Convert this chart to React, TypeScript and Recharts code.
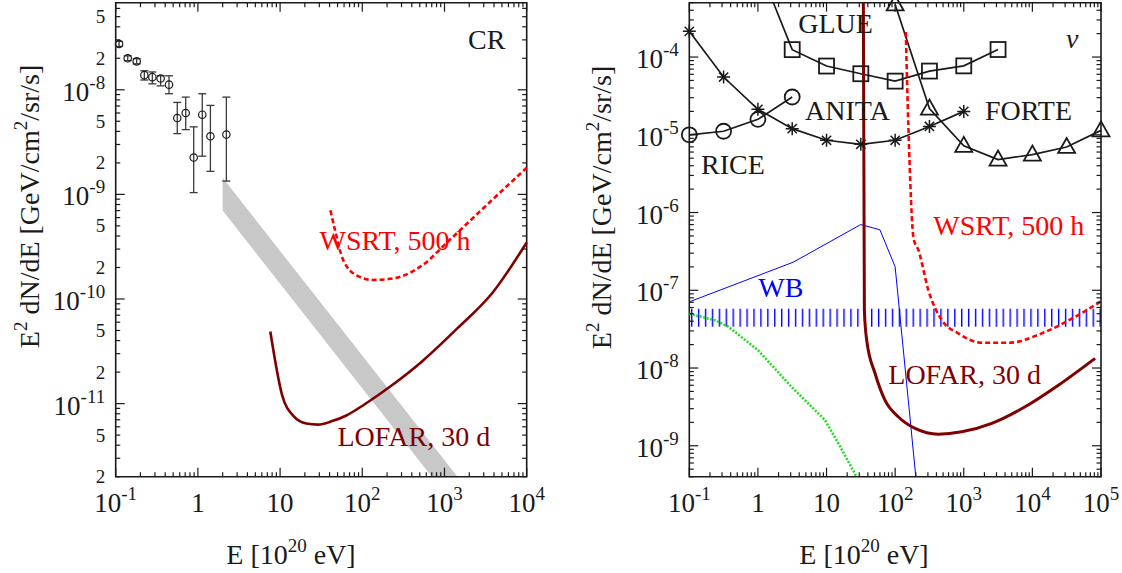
import {
  ComposedChart,
  Line,
  Area,
  Scatter,
  ErrorBar,
  XAxis,
  YAxis,
  ReferenceArea,
} from "recharts";

const SERIF = "'Liberation Serif', 'Times New Roman', serif";
const INK = "#1a1a1a";
const DARK_RED = "#800000";

// tick labels
const xMajorTicks = [0.1, 1, 10, 1e2, 1e3, 1e4, 1e5];
const xMajorLabels = ["10^-1", "1", "10", "10^2", "10^3", "10^4", "10^5"];
const leftYLabelTicks = [
  2e-12, 5e-12, 1e-11, 2e-11, 5e-11, 1e-10, 2e-10, 5e-10, 1e-9, 2e-9, 5e-9, 1e-8, 2e-8, 5e-8,
];
const leftYLabels = ["2", "5", "10^-11", "2", "5", "10^-10", "2", "5", "10^-9", "2", "5", "10^-8", "2", "5"];
const rightYLabelTicks = [1e-9, 1e-8, 1e-7, 1e-6, 1e-5, 1e-4];
const rightYLabels = ["10^-9", "10^-8", "10^-7", "10^-6", "10^-5", "10^-4"];

// left panel: cosmic rays (E in 1e20 eV, E^2 dN/dE)
const crE = [0.11, 0.14, 0.18, 0.223, 0.279, 0.352, 0.445, 0.561, 0.711, 0.889, 1.13, 1.42, 2.22];
const crFlux = [2.74e-8, 2.0e-8, 1.87e-8, 1.38e-8, 1.32e-8, 1.28e-8, 1.12e-8, 5.37e-9, 6.0e-9, 2.25e-9, 5.78e-9, 3.59e-9, 3.73e-9];
const crLow = [2.6e-8, 1.9e-8, 1.77e-8, 1.24e-8, 1.14e-8, 1.09e-8, 9.16e-9, 3.81e-9, 4.16e-9, 1.04e-9, 2.32e-9, 1.66e-9, 1.34e-9];
const crHigh = [2.9e-8, 2.11e-8, 1.98e-8, 1.52e-8, 1.48e-8, 1.36e-8, 1.36e-8, 7.57e-9, 8.51e-9, 4.42e-9, 9.16e-9, 7.09e-9, 8.51e-9];

const bandE = [2, 700, 1440];
const bandLow = [7.0e-10, 2e-12, 2e-12];
const bandHigh = [1.44e-9, 4.1e-12, 2e-12];

const lofarCrE = [7.6, 10.6, 14.6, 20.9, 28.8, 43, 64, 106, 236, 524, 1420, 3880, 10000];
const lofarCrFlux = [4.89e-11, 1.2e-11, 7.6e-12, 6.45e-12, 6.3e-12, 6.8e-12, 7.7e-12, 9.8e-12, 1.52e-11, 2.5e-11, 5.2e-11, 1.16e-10, 3.47e-10];

const wsrtCrE = [40.9, 47.4, 58, 86.5, 136, 236, 524, 1170, 2870, 10000];
const wsrtCrFlux = [7.05e-10, 4.3e-10, 2.4e-10, 1.67e-10, 1.52e-10, 1.57e-10, 2.07e-10, 3.7e-10, 7.2e-10, 1.8e-9];

// right panel: neutrinos
const glueE = [1.68, 3.16, 10, 31.6, 100, 316, 1000, 3160];
const glueFlux = [5e-4, 1.245e-4, 7.66e-5, 6.1e-5, 4.9e-5, 6.6e-5, 7.7e-5, 1.25e-4];

const anitaE = [0.1, 0.316, 1, 3.16, 10, 31.6, 100, 316, 1000];
const anitaFlux = [2.14e-4, 5.53e-5, 2.13e-5, 1.2e-5, 8.5e-6, 7.55e-6, 8.5e-6, 1.28e-5, 2.0e-5];

const riceE = [0.1, 0.316, 1, 3.16];
const riceFlux = [1.0e-5, 1.11e-5, 1.58e-5, 3.06e-5];

const forteE = [100, 316, 1000, 3160, 1e4, 31600, 1e5];
const forteFlux = [4.75e-4, 2.17e-5, 7.2e-6, 4.8e-6, 5.55e-6, 6.97e-6, 1.14e-5];

const lofarNuE = [34.4, 35.6, 38.5, 51, 71, 111, 195, 427, 935, 2560, 7830, 23900, 82000];
const lofarNuFlux = [5e-4, 5.5e-8, 2.28e-8, 8.5e-9, 3.87e-9, 2.36e-9, 1.67e-9, 1.41e-9, 1.51e-9, 1.94e-9, 3.17e-9, 6.0e-9, 1.33e-8];

const wsrtNuE = [143, 156, 186, 218, 305, 478, 834, 1830, 4470, 13700, 41900, 100000];
const wsrtNuFlux = [2.1e-4, 1.26e-5, 4.6e-7, 3.3e-7, 1.0e-7, 4.13e-8, 2.79e-8, 2.11e-8, 2.11e-8, 2.79e-8, 4.55e-8, 7.2e-8];

const wbE = [0.1, 3.28, 31.5, 60, 100, 200];
const wbFlux = [7.1e-8, 2.3e-7, 7.0e-7, 6.0e-7, 2.0e-7, 4e-10];

const gzkE = [0.1, 0.24, 0.37, 1, 3.1, 9.5, 14.9, 27.4];
const gzkFlux = [5.0e-8, 4.1e-8, 3.4e-8, 1.7e-8, 5.7e-9, 2.14e-9, 1.07e-9, 4e-10];

const wbBandE = [0.1, 1e5];
const wbBandFlux = [3.4e-8, 5.8e-8];

const zip = (xs: number[], ys: number[]) => xs.map((x, i) => ({ x, y: ys[i] }));

const crData = crE.map((x, i) => ({
  x,
  y: crFlux[i],
  err: [crFlux[i] - crLow[i], crHigh[i] - crFlux[i]],
}));
const bandData = bandE.map((x, i) => ({ x, band: [bandLow[i], bandHigh[i]] }));

const logTicks = (lo: number, hi: number) => {
  const out: number[] = [];
  for (let e = Math.floor(Math.log10(lo)); e <= Math.ceil(Math.log10(hi)); e++)
    for (let k = 1; k <= 9; k++) {
      const v = k * Math.pow(10, e);
      if (v >= lo * 0.9999 && v <= hi * 1.0001) out.push(v);
    }
  return out;
};
const sameTick = (a: number, b: number) => Math.abs(Math.log10(a) - Math.log10(b)) < 1e-6;
const isDecade = (v: number) => Math.abs(Math.log10(v) - Math.round(Math.log10(v))) < 1e-6;

type Panel = { left: number; top: number; w: number; h: number };
const LEFT: Panel = { left: 115.7, top: 2.7, w: 411, h: 474 };
const RIGHT: Panel = { left: 129.3, top: 2.7, w: 411.7, h: 474 };
const YW = 100;
const XH = 60;
const H = 573;

const TickText = ({ x, y, text, anchor, size }: { x: number; y: number; text: string; anchor: "start" | "middle" | "end"; size: number }) => {
  const [base, exp] = text.split("^");
  return (
    <text x={x} y={y} textAnchor={anchor} fontFamily={SERIF} fontSize={size} fill={INK}>
      {base}
      {exp && (
        <tspan dy={-12} fontSize={19}>
          {exp}
        </tspan>
      )}
    </text>
  );
};

const makeXTick = (p: Panel) => (props: any) => {
  const { x, payload } = props;
  const v = payload.value;
  const len = isDecade(v) ? 9 : 4.5;
  const bottom = p.top + p.h;
  const i = xMajorTicks.findIndex((t) => sameTick(t, v));
  return (
    <g>
      <line x1={x} x2={x} y1={bottom} y2={bottom - len} stroke={INK} strokeWidth={1.2} />
      <line x1={x} x2={x} y1={p.top} y2={p.top + len} stroke={INK} strokeWidth={1.2} />
      {i >= 0 && <TickText x={x} y={bottom + 35} text={xMajorLabels[i]} anchor="middle" size={27} />}
    </g>
  );
};

const makeYTick = (p: Panel, labTicks: number[], labs: string[]) => (props: any) => {
  const { y, payload } = props;
  const v = payload.value;
  const major = isDecade(v);
  const len = major ? 9 : 4.5;
  const right = p.left + p.w;
  const i = labTicks.findIndex((t) => sameTick(t, v));
  return (
    <g>
      <line x1={p.left} x2={p.left + len} y1={y} y2={y} stroke={INK} strokeWidth={1.2} />
      <line x1={right} x2={right - len} y1={y} y2={y} stroke={INK} strokeWidth={1.2} />
      {i >= 0 && (
        <TickText x={p.left - 10.5} y={y + (major ? 11 : 6.5)} text={labs[i]} anchor="end" size={major ? 27 : 19} />
      )}
    </g>
  );
};

const marker = (kind: string, top: number) => (props: any) => {
  const { cx, cy, index } = props;
  const key = `${kind}-${index}`;
  if (cx == null || cy == null || cy <= top + 0.5) return <g key={key} />;
  const st = { fill: "none", stroke: INK, strokeWidth: 1.8 };
  if (kind === "square") return <rect key={key} x={cx - 7.5} y={cy - 7.5} width={15} height={15} {...st} />;
  if (kind === "circle") return <circle key={key} cx={cx} cy={cy} r={7.5} {...st} />;
  if (kind === "triangle")
    return <polygon key={key} points={`${cx},${cy - 9} ${cx - 8.5},${cy + 6} ${cx + 8.5},${cy + 6}`} {...st} />;
  return (
    <path
      key={key}
      d={`M${cx - 6.5},${cy}H${cx + 6.5}M${cx},${cy - 6.5}V${cy + 6.5}M${cx - 4.6},${cy - 4.6}L${cx + 4.6},${cy + 4.6}M${cx - 4.6},${cy + 4.6}L${cx + 4.6},${cy - 4.6}`}
      stroke={INK}
      strokeWidth={1.5}
      fill="none"
    />
  );
};

const CrCircle = (props: any) => (
  <circle cx={props.cx} cy={props.cy} r={3.7} fill="none" stroke={INK} strokeWidth={1.2} />
);

const CosmicRayPanel = () => {
  const xDomain = [0.1, 1e4];
  const yDomain = [2e-12, 6.8e-8];
  return (
    <ComposedChart
      width={560}
      height={H}
      data={bandData}
      margin={{ top: LEFT.top, left: LEFT.left - YW, right: 560 - LEFT.left - LEFT.w, bottom: H - LEFT.top - LEFT.h - XH }}
    >
      <XAxis
        dataKey="x"
        type="number"
        scale="log"
        domain={xDomain}
        ticks={logTicks(0.1, 1e4)}
        interval={0}
        height={XH}
        tickSize={0}
        tickMargin={0}
        axisLine={false}
        tickLine={false}
        tick={makeXTick(LEFT)}
      />
      <YAxis
        type="number"
        scale="log"
        domain={yDomain}
        ticks={logTicks(2e-12, 6.8e-8)}
        interval={0}
        width={YW}
        tickSize={0}
        tickMargin={0}
        axisLine={false}
        tickLine={false}
        tick={makeYTick(LEFT, leftYLabelTicks, leftYLabels)}
      />
      <Area dataKey="band" type="linear" fill="#c8c8c8" fillOpacity={1} stroke="none" isAnimationActive={false} />
      <Line data={zip(wsrtCrE, wsrtCrFlux)} dataKey="y" type="monotone" stroke="#ff0000" strokeWidth={2.6} strokeDasharray="5 3" dot={false} activeDot={false} isAnimationActive={false} />
      <Line data={zip(lofarCrE, lofarCrFlux)} dataKey="y" type="monotone" stroke={DARK_RED} strokeWidth={2.6} dot={false} activeDot={false} isAnimationActive={false} />
      <Scatter data={crData} dataKey="y" shape={CrCircle} isAnimationActive={false}>
        <ErrorBar dataKey="err" direction="y" width={4} stroke="#3a3a3a" strokeWidth={1.3} isAnimationActive={false} />
      </Scatter>
      <ReferenceArea x1={xDomain[0]} x2={xDomain[1]} y1={yDomain[0]} y2={yDomain[1]} fill="none" stroke={INK} strokeWidth={1.6} ifOverflow="visible" />
    </ComposedChart>
  );
};

const NeutrinoPanel = () => {
  const xDomain = [0.1, 1e5];
  const yDomain = [4e-10, 5e-4];
  const top = RIGHT.top;
  return (
    <ComposedChart
      width={562}
      height={H}
      margin={{ top: RIGHT.top, left: RIGHT.left - YW, right: 562 - RIGHT.left - RIGHT.w, bottom: H - RIGHT.top - RIGHT.h - XH }}
    >
      <defs>
        <pattern id="wbHatch" patternUnits="userSpaceOnUse" x={131} y={0} width={6.924} height={20}>
          <line x1={0.7} x2={0.7} y1={0} y2={20} stroke="#0000ff" strokeWidth={1.4} />
        </pattern>
      </defs>
      <XAxis
        dataKey="x"
        type="number"
        scale="log"
        domain={xDomain}
        ticks={logTicks(0.1, 1e5)}
        interval={0}
        height={XH}
        tickSize={0}
        tickMargin={0}
        axisLine={false}
        tickLine={false}
        tick={makeXTick(RIGHT)}
      />
      <YAxis
        type="number"
        scale="log"
        domain={yDomain}
        ticks={logTicks(4e-10, 5e-4)}
        interval={0}
        width={YW}
        tickSize={0}
        tickMargin={0}
        axisLine={false}
        tickLine={false}
        tick={makeYTick(RIGHT, rightYLabelTicks, rightYLabels)}
      />
      <ReferenceArea x1={wbBandE[0]} x2={wbBandE[1]} y1={wbBandFlux[0]} y2={wbBandFlux[1]} fill="url(#wbHatch)" fillOpacity={1} stroke="none" />
      <Line data={zip(gzkE, gzkFlux)} dataKey="y" type="linear" stroke="#22dd22" strokeWidth={2.6} strokeDasharray="2 1.6" dot={false} activeDot={false} isAnimationActive={false} />
      <Line data={zip(wbE, wbFlux)} dataKey="y" type="linear" stroke="#0000ff" strokeWidth={1} dot={false} activeDot={false} isAnimationActive={false} />
      <Line data={zip(glueE, glueFlux)} dataKey="y" type="linear" stroke={INK} strokeWidth={1.7} dot={marker("square", top)} activeDot={false} isAnimationActive={false} />
      <Line data={zip(anitaE, anitaFlux)} dataKey="y" type="linear" stroke={INK} strokeWidth={1.7} dot={marker("star", top)} activeDot={false} isAnimationActive={false} />
      <Line data={zip(riceE, riceFlux)} dataKey="y" type="linear" stroke={INK} strokeWidth={1.7} dot={marker("circle", top)} activeDot={false} isAnimationActive={false} />
      <Line data={zip(forteE, forteFlux)} dataKey="y" type="linear" stroke={INK} strokeWidth={1.7} dot={marker("triangle", top - 5)} activeDot={false} isAnimationActive={false} />
      <Line data={zip(lofarNuE, lofarNuFlux)} dataKey="y" type="monotone" stroke={DARK_RED} strokeWidth={3} dot={false} activeDot={false} isAnimationActive={false} />
      <Line data={zip(wsrtNuE, wsrtNuFlux)} dataKey="y" type="monotone" stroke="#ff0000" strokeWidth={2.6} strokeDasharray="5 3" dot={false} activeDot={false} isAnimationActive={false} />
      <ReferenceArea x1={xDomain[0]} x2={xDomain[1]} y1={yDomain[0]} y2={yDomain[1]} fill="none" stroke={INK} strokeWidth={1.6} ifOverflow="visible" />
    </ComposedChart>
  );
};

const Sup = ({ children }: { children: string }) => (
  <tspan dy={-12} fontSize={19}>
    {children}
  </tspan>
);

const YTitle = ({ x, y }: { x: number; y: number }) => (
  <text transform={`rotate(-90 ${x} ${y})`} x={x} y={y} textAnchor="middle" fontSize={28} style={{ whiteSpace: "pre" }}>
    E<Sup>2</Sup>
    <tspan dy={12}> dN/dE [GeV/cm</tspan>
    <Sup>2</Sup>
    <tspan dy={12}>/sr/s]</tspan>
  </text>
);

const XTitle = ({ x, y }: { x: number; y: number }) => (
  <text x={x} y={y} textAnchor="middle" fontSize={28} style={{ whiteSpace: "pre" }}>
    E [10<Sup>20</Sup>
    <tspan dy={12}> eV]</tspan>
  </text>
);

const Annotations = () => (
  <svg width={1122} height={573} style={{ position: "absolute", left: 0, top: 0, pointerEvents: "none" }} fontFamily={SERIF} fill={INK}>
    <YTitle x={39} y={206.5} />
    <YTitle x={611} y={207.5} />
    <XTitle x={291} y={564} />
    <XTitle x={864} y={564} />
    <g fontSize={28}>
      <text x={468} y={49.3}>CR</text>
      <text x={319.6} y={250} fill="#ff0000">WSRT, 500 h</text>
      <text x={337.5} y={445.7} fill={DARK_RED}>LOFAR, 30 d</text>
      <text x={798.3} y={33.3}>GLUE</text>
      <text x={805} y={120}>ANITA</text>
      <text x={985} y={120}>FORTE</text>
      <text x={701} y={174}>RICE</text>
      <text x={1066} y={48} fontStyle="italic">ν</text>
      <text x={933.3} y={235} fill="#ff0000">WSRT, 500 h</text>
      <text x={758.3} y={297.3} fill="#0000ff">WB</text>
      <text x={888.3} y={384} fill={DARK_RED}>LOFAR, 30 d</text>
    </g>
  </svg>
);

export default function App() {
  return (
    <div style={{ position: "absolute", left: 0, top: 0, width: 1122, height: 573, background: "#fff", fontFamily: SERIF }}>
      <div style={{ position: "absolute", left: 0, top: 0 }}>
        <CosmicRayPanel />
      </div>
      <div style={{ position: "absolute", left: 560, top: 0 }}>
        <NeutrinoPanel />
      </div>
      <Annotations />
    </div>
  );
}
